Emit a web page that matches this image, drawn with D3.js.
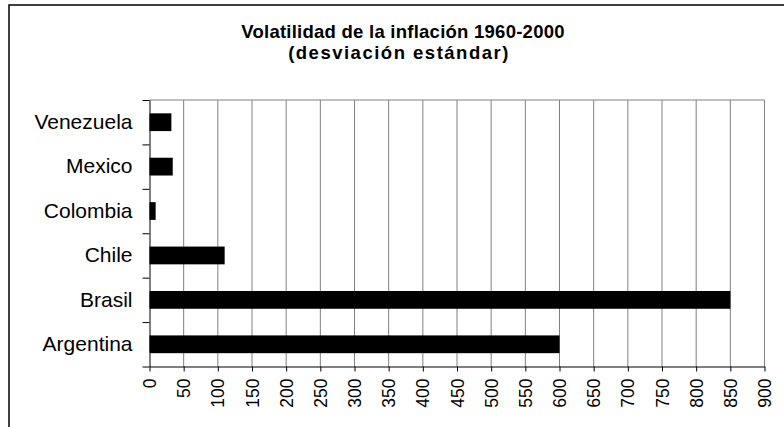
<!DOCTYPE html>
<html>
<head>
<meta charset="utf-8">
<script src="https://cdn.jsdelivr.net/npm/d3@7"></script>
<style>
  body { margin: 0; background: #fff; }
  svg { display: block; font-family: "Liberation Sans", Arial, sans-serif; }
</style>
</head>
<body>
<svg id="chart"></svg>
<script>
// Data
const countries = ["Venezuela", "Mexico", "Colombia", "Chile", "Brasil", "Argentina"];
const volatility = [32, 34, 9, 110, 850, 600];
const xTicks = d3.range(0, 901, 50);
const titleLines = ["Volatilidad de la inflación 1960-2000", "(desviación estándar)"];

const width = 784;
const height = 427;
const marginTop = 100;
const marginLeft = 149.5;
const plotRight = 764.5;
const plotBottom = 366.5;

const rows = countries.map((c, i) => ({country: c, value: volatility[i]}));

const svg = d3.select("#chart")
    .attr("width", width)
    .attr("height", height)
    .attr("viewBox", [0, 0, width, height]);

// chart frame (runs off the right/bottom edge like the reference crop)
svg.append("rect")
    .attr("x", 9)
    .attr("y", 5)
    .attr("width", 820)
    .attr("height", 460)
    .attr("fill", "none")
    .attr("stroke", "#000")
    .attr("stroke-width", 1.5);

const x = d3.scaleLinear()
    .domain([0, 900])
    .range([marginLeft, plotRight]);

const y = d3.scaleBand()
    .domain(countries)
    .range([marginTop, plotBottom])
    .paddingInner(0.6)
    .paddingOuter(0.3);

// index scale for the category boundary ticks
const yEdge = d3.scaleLinear()
    .domain([0, countries.length])
    .range([marginTop, plotBottom]);

// title
svg.append("g")
    .selectAll("text")
    .data(titleLines)
    .join("text")
    .attr("x", (d, i) => i === 0 ? 403 : 399)
    .attr("y", (d, i) => 37.5 + i * 21)
    .attr("text-anchor", "middle")
    .attr("font-weight", "bold")
    .attr("font-size", 18.5)
    .attr("letter-spacing", (d, i) => i === 0 ? 0.25 : 1.5)
    .attr("fill", "#000")
    .text(d => d);

// vertical grid lines
svg.append("g")
    .selectAll("line")
    .data(xTicks.filter(d => d > 0))
    .join("line")
    .attr("x1", d => x(d))
    .attr("x2", d => x(d))
    .attr("y1", marginTop)
    .attr("y2", plotBottom)
    .attr("stroke", "#808080")
    .attr("stroke-width", 1);

// top edge of the plot
svg.append("line")
    .attr("x1", marginLeft)
    .attr("x2", plotRight)
    .attr("y1", marginTop)
    .attr("y2", marginTop)
    .attr("stroke", "#808080")
    .attr("stroke-width", 1);

// bars
svg.append("g")
    .selectAll("rect")
    .data(rows)
    .join("rect")
    .attr("x", x(0))
    .attr("y", d => y(d.country))
    .attr("width", d => x(d.value) - x(0))
    .attr("height", y.bandwidth())
    .attr("fill", "#000");

// x axis
svg.append("g")
    .attr("transform", `translate(0,${plotBottom})`)
    .call(d3.axisBottom(x).tickValues(xTicks).tickSize(5).tickSizeOuter(0))
    .call(g => g.select(".domain").attr("stroke", "#000"))
    .call(g => g.selectAll(".tick line").attr("stroke", "#000"))
    .call(g => g.selectAll("text")
        .attr("transform", "rotate(-90)")
        .attr("x", -12)
        .attr("y", 0)
        .attr("dy", "0.35em")
        .attr("text-anchor", "end")
        .attr("font-size", 17.5)
        .attr("font-family", "Liberation Sans, Arial, sans-serif")
        .attr("fill", "#000"));

// y axis: boundary ticks
svg.append("g")
    .attr("transform", `translate(${marginLeft},0)`)
    .call(d3.axisLeft(yEdge).ticks(countries.length).tickSize(7).tickSizeOuter(0).tickFormat(""))
    .call(g => g.select(".domain").attr("stroke", "#000"))
    .call(g => g.selectAll(".tick line").attr("stroke", "#000"));

// y axis: category labels
svg.append("g")
    .attr("transform", `translate(${marginLeft},0)`)
    .call(d3.axisLeft(y).tickSize(0).tickPadding(17))
    .call(g => g.select(".domain").remove())
    .call(g => g.selectAll("text")
        .attr("font-size", 21)
        .attr("font-family", "Liberation Sans, Arial, sans-serif")
        .attr("fill", "#000"));
</script>
</body>
</html>
